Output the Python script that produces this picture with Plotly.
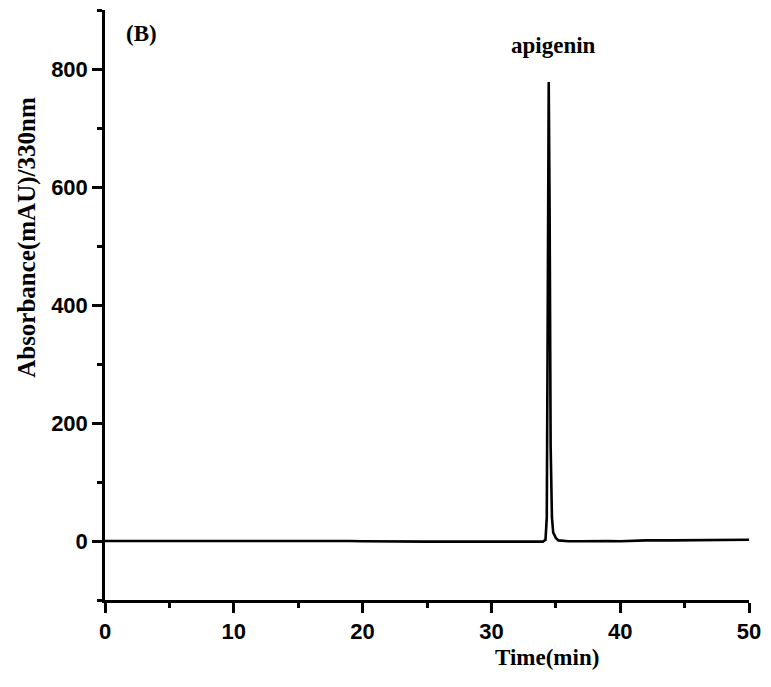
import plotly.graph_objects as go

# HPLC chromatogram at 330 nm: retention time (min) vs absorbance (mAU)
time_min = [0, 2, 5, 8, 10, 12, 15, 18, 18.5, 19, 20, 22, 25, 28, 30, 32, 33.5,
            34.0, 34.2, 34.3, 34.38, 34.45, 34.52, 34.6, 34.7, 34.8, 34.9, 35.0,
            35.2, 35.5, 36, 37, 38, 39, 40, 41, 42, 44, 46, 48, 50]
absorbance = [0, 0, 0, 0, 0, 0, 0, 0, 1, 0, -0.5, -1, -1, -1, -1, -1, -1,
              -1, 2, 40, 420, 778, 560, 160, 40, 14, 10, 5,
              1, 0, -0.5, -0.5, 0, 0, -0.5, 0.5, 1, 1, 1.5, 2, 2]

y_ticks = [0, 200, 400, 600, 800]
x_ticks = [0, 10, 20, 30, 40, 50]

serif = "Liberation Serif, Times New Roman, serif"
sans = "Liberation Sans, Arial, sans-serif"

fig = go.Figure()
fig.add_trace(go.Scatter(
    x=time_min, y=absorbance, mode="lines",
    line=dict(color="black", width=2.6), showlegend=False,
))

axis_common = dict(
    showline=True, linecolor="black", linewidth=2.5,
    ticks="outside", ticklen=10, tickwidth=2.5, tickcolor="black",
    showgrid=False, zeroline=False, mirror=False,
    tickfont=dict(family=sans, size=22, color="black", weight="bold"),
)

fig.update_xaxes(
    range=[0, 50], tickvals=x_ticks,
    minor=dict(dtick=5, tick0=0, ticks="outside", ticklen=5, tickwidth=2.5,
               tickcolor="black", showgrid=False),
    **axis_common,
)
fig.update_yaxes(
    range=[-100, 900], tickvals=y_ticks,
    minor=dict(dtick=100, tick0=-100, ticks="outside", ticklen=5, tickwidth=2.5,
               tickcolor="black", showgrid=False),
    **axis_common,
)

fig.add_annotation(
    text="Time(min)", xref="paper", yref="paper", x=0.686, y=-0.098,
    xanchor="center", yanchor="middle", showarrow=False,
    font=dict(family=serif, size=23, color="black", weight="bold"),
)
fig.add_annotation(
    text="Absorbance(mAU)/330nm", xref="paper", yref="paper", x=-0.121, y=0.614,
    xanchor="center", yanchor="middle", textangle=-90, showarrow=False,
    font=dict(family=serif, size=25, color="black", weight="bold"),
)
fig.add_annotation(
    text="(B)", xref="paper", yref="paper", x=0.056, y=0.961,
    xanchor="center", yanchor="middle", showarrow=False,
    font=dict(family=serif, size=23, color="black", weight="bold"),
)
fig.add_annotation(
    text="apigenin", x=34.8, y=839, xanchor="center", yanchor="middle",
    showarrow=False,
    font=dict(family=serif, size=23, color="black", weight="bold"),
)

fig.update_layout(
    width=771, height=687,
    margin=dict(l=105, r=17, t=10, b=87),
    paper_bgcolor="white", plot_bgcolor="white",
)

fig.write_html("out.html")
